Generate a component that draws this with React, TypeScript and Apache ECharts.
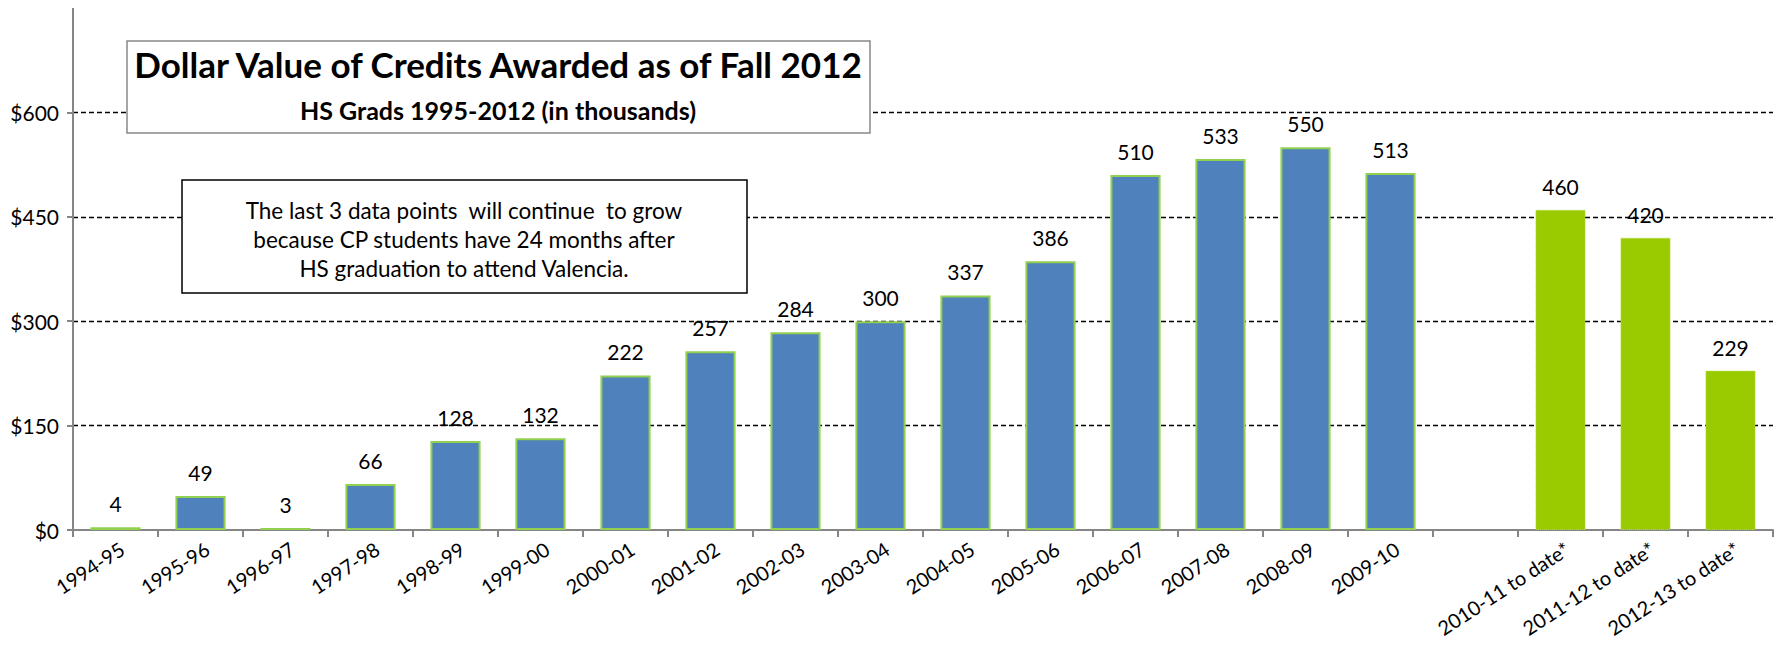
import React, { useEffect, useRef } from "react";
import * as echarts from "echarts";

const categories = [
  "1994-95", "1995-96", "1996-97", "1997-98", "1998-99", "1999-00", "2000-01", "2001-02",
  "2002-03", "2003-04", "2004-05", "2005-06", "2006-07", "2007-08", "2008-09", "2009-10",
  "", "2010-11 to date*", "2011-12 to date*", "2012-13 to date*",
];
const values: (number | null)[] = [
  4, 49, 3, 66, 128, 132, 222, 257, 284, 300, 337, 386, 510, 533, 550, 513,
  null, 460, 420, 229,
];
const toDate = [
  false, false, false, false, false, false, false, false, false, false, false, false, false, false, false, false,
  false, true, true, true,
];
const yTicks = [0, 150, 300, 450, 600];
const titleLines = ["Dollar Value of Credits Awarded as of Fall 2012", "HS Grads 1995-2012 (in thousands)"];
const noteLines = [
  "The last 3 data points  will continue  to grow",
  "because CP students have 24 months after",
  "HS graduation to attend Valencia.",
];

const FONT = "Lato, 'Open Sans', sans-serif";

export default function App() {
  const ref = useRef<HTMLDivElement>(null);
  useEffect(() => {
    if (!ref.current) return;
    const chart = echarts.init(ref.current, null, { renderer: "svg" });
    const data = values.map((v, i) =>
      v === null
        ? "-"
        : {
            value: v,
            itemStyle: toDate[i]
              ? { color: "#9ACA00", borderColor: "#B5DC4A", borderWidth: 1, borderType: "dotted" }
              : { color: "#4F81BD", borderColor: "#92D050", borderWidth: 2 },
          }
    );
    chart.setOption({
      animation: false,
      textStyle: { fontFamily: FONT },
      grid: { left: 65, right: 1, top: 0, bottom: 117, containLabel: false, outerBoundsMode: "none" },
      xAxis: {
        type: "category",
        data: categories,
        axisLine: { lineStyle: { color: "#868686", width: 2 } },
        axisTick: { show: true, interval: 0, length: 7, lineStyle: { color: "#868686", width: 2 } },
        axisLabel: {
          interval: 0,
          rotate: 33,
          fontSize: 20,
          color: "#000",
          margin: 21,
          padding: [0, -8, 0, 0],
          fontFamily: FONT,
        },
        splitLine: { show: false },
      },
      yAxis: {
        type: "value",
        min: 0,
        max: 750,
        interval: 150,
        axisLine: { show: true, lineStyle: { color: "#868686", width: 2 } },
        axisTick: { show: true, length: 6, customValues: yTicks, lineStyle: { color: "#868686", width: 2 } },
        axisLabel: {
          fontSize: 21,
          color: "#000",
          margin: 14,
          fontFamily: FONT,
          customValues: yTicks,
          formatter: (v: number) => "$" + v,
        },
        splitLine: { show: true, showMinLine: false, lineStyle: { color: "#000", type: [5, 3], width: 1.3 } },
      },
      series: [
        {
          type: "bar",
          data,
          barCategoryGap: "41%",
          label: { show: true, position: "top", distance: 13, fontSize: 21, color: "#000", fontFamily: FONT },
        },
      ],
      graphic: [
        {
          type: "rect",
          shape: { x: 119, y: 33, width: 743, height: 92 },
          style: { fill: "#fff", stroke: "#888", lineWidth: 1.5 },
          z: 10,
        },
        {
          type: "text",
          x: 490,
          y: 56,
          style: { text: titleLines[0], font: "bold 35px " + FONT, fill: "#000", align: "center", verticalAlign: "middle" },
          z: 11,
        },
        {
          type: "text",
          x: 490,
          y: 102,
          style: { text: titleLines[1], font: "bold 25px " + FONT, fill: "#000", align: "center", verticalAlign: "middle" },
          z: 11,
        },
        {
          type: "rect",
          shape: { x: 174, y: 172, width: 565, height: 113 },
          style: { fill: "#fff", stroke: "#000", lineWidth: 1.5 },
          z: 10,
        },
        ...noteLines.map((t, i) => ({
          type: "text",
          x: 456,
          y: 202 + i * 29,
          style: { text: t, font: "22.5px " + FONT, fill: "#000", align: "center", verticalAlign: "middle" },
          z: 11,
        })),
      ],
    });
    return () => chart.dispose();
  }, []);
  return <div ref={ref} style={{ position: "absolute", left: 8, top: 8, width: 1766, height: 639 }} />;
}
